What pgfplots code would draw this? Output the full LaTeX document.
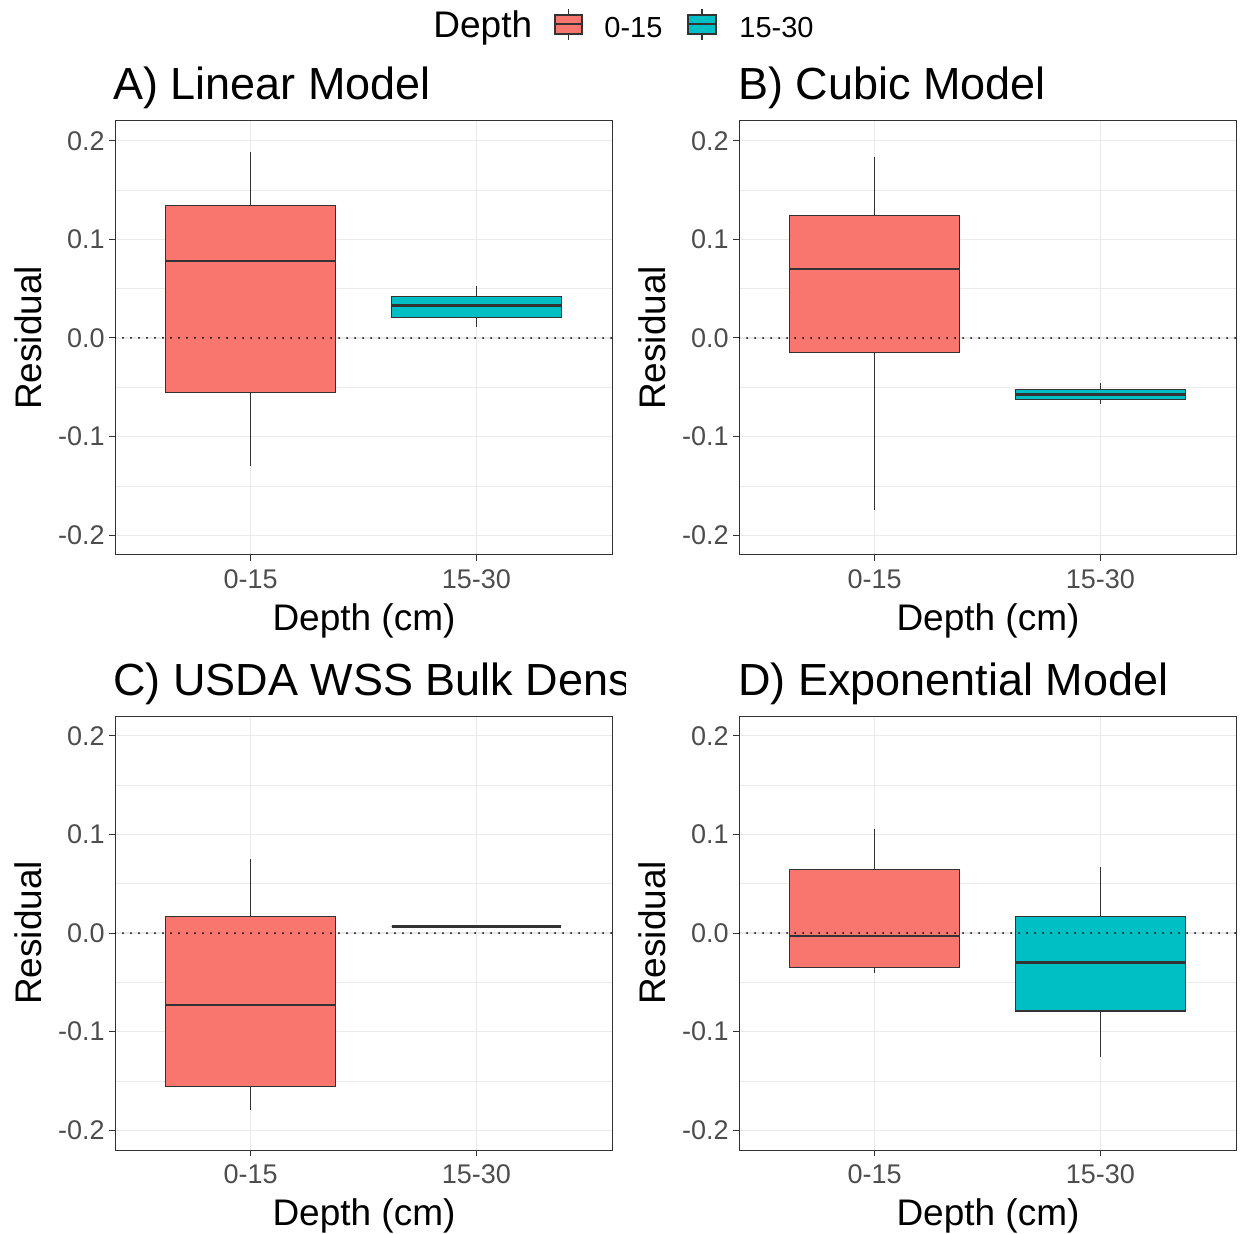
\documentclass[border=0pt]{standalone}
\usepackage{pgfplots}
\pgfplotsset{compat=1.18}
\usepgfplotslibrary{statistics}
\usepackage{fontspec}
\setmainfont{Liberation Sans}
\definecolor{gred}{HTML}{F8766D}
\definecolor{gcyan}{HTML}{00BFC4}
\definecolor{g20}{HTML}{333333}
\definecolor{g30}{HTML}{4D4D4D}
\definecolor{g92}{HTML}{EBEBEB}

\pgfplotsset{
 panel/.style={
  scale only axis, width=248.5pt, height=217pt,
  anchor=north west,
  xmin=0.4, xmax=2.6, ymin=-0.22, ymax=0.22,
  xtick={1,2}, xticklabels={0-15,15-30},
  ytick={-0.2,-0.1,0,0.1,0.2}, yticklabels={-0.2,-0.1,0.0,0.1,0.2},
  minor ytick={-0.15,-0.05,0.05,0.15},
  xtick pos=bottom, ytick pos=left,
  xmajorgrids, ymajorgrids, yminorgrids,
  major grid style={g92, line width=0.6pt},
  minor grid style={g92, line width=0.35pt},
  axis line style={g20, line width=0.5pt},
  tick align=outside, major tick length=3pt, minor tick length=0pt,
  tick style={g20, line width=0.5pt},
  ticklabel style={font=\fontsize{13.5}{16}\selectfont, text=g30},
  yticklabel style={inner sep=0pt, xshift=-2pt},
  xticklabel style={inner sep=0pt, yshift=-4pt},
  boxplot/draw direction=y,
 },
 bx/.style={fill=#1, draw=g20, line width=0.6pt},
 med/.style={g20, line width=1.4pt, line cap=butt},
 zero/.style={black, line width=1pt, line cap=round, dash pattern=on 0pt off 4pt},
}

\begin{document}
\begin{tikzpicture}
\path[use as bounding box] (0,0) rectangle (620pt,-617pt);

% Panel A
\begin{axis}[panel, at={(57.5pt,-60.5pt)}]
\addplot[bx=gred, boxplot prepared={draw position=1, lower whisker=-0.130, lower quartile=-0.055, median=0.078, upper quartile=0.134, upper whisker=0.189, box extend=0.75, whisker extend=0}] coordinates {};
\addplot[bx=gcyan, boxplot prepared={draw position=2, lower whisker=0.011, lower quartile=0.021, median=0.033, upper quartile=0.042, upper whisker=0.053, box extend=0.75, whisker extend=0}] coordinates {};
\addplot[med] coordinates {(0.625,0.078) (1.375,0.078)};
\addplot[med] coordinates {(1.625,0.033) (2.375,0.033)};
\addplot[zero] coordinates {(0.4,0) (2.6,0)};
\end{axis}

% Panel B
\begin{axis}[panel, at={(369.5pt,-60.5pt)}]
\addplot[bx=gred, boxplot prepared={draw position=1, lower whisker=-0.174, lower quartile=-0.015, median=0.070, upper quartile=0.124, upper whisker=0.183, box extend=0.75, whisker extend=0}] coordinates {};
\addplot[bx=gcyan, boxplot prepared={draw position=2, lower whisker=-0.067, lower quartile=-0.062, median=-0.057, upper quartile=-0.052, upper whisker=-0.046, box extend=0.75, whisker extend=0}] coordinates {};
\addplot[med] coordinates {(0.625,0.070) (1.375,0.070)};
\addplot[med] coordinates {(1.625,-0.057) (2.375,-0.057)};
\addplot[zero] coordinates {(0.4,0) (2.6,0)};
\end{axis}

% Panel C
\begin{axis}[panel, at={(57.5pt,-358pt)}]
\addplot[bx=gred, boxplot prepared={draw position=1, lower whisker=-0.179, lower quartile=-0.156, median=-0.073, upper quartile=0.017, upper whisker=0.075, box extend=0.75, whisker extend=0}] coordinates {};
\addplot[bx=gcyan, boxplot prepared={draw position=2, lower whisker=0.007, lower quartile=0.007, median=0.007, upper quartile=0.007, upper whisker=0.007, box extend=0.75, whisker extend=0}] coordinates {};
\addplot[med] coordinates {(0.625,-0.073) (1.375,-0.073)};
\addplot[med] coordinates {(1.625,0.007) (2.375,0.007)};
\addplot[zero] coordinates {(0.4,0) (2.6,0)};
\end{axis}

% Panel D
\begin{axis}[panel, at={(369.5pt,-358pt)}]
\addplot[bx=gred, boxplot prepared={draw position=1, lower whisker=-0.041, lower quartile=-0.035, median=-0.003, upper quartile=0.064, upper whisker=0.105, box extend=0.75, whisker extend=0}] coordinates {};
\addplot[bx=gcyan, boxplot prepared={draw position=2, lower whisker=-0.126, lower quartile=-0.079, median=-0.030, upper quartile=0.017, upper whisker=0.067, box extend=0.75, whisker extend=0}] coordinates {};
\addplot[med] coordinates {(0.625,-0.003) (1.375,-0.003)};
\addplot[med] coordinates {(1.625,-0.030) (2.375,-0.030)};
\addplot[zero] coordinates {(0.4,0) (2.6,0)};
\end{axis}

% Titles
\def\tfont{\fontsize{22.5}{27}\selectfont}
\def\lfont{\fontsize{18.5}{22}\selectfont}
\node[anchor=base west, inner sep=0pt, font=\tfont] at (56.5pt,-50pt) {A) Linear Model};
\node[anchor=base west, inner sep=0pt, font=\tfont] at (369pt,-50pt) {B) Cubic Model};
\begin{scope}
\clip (0pt,-310pt) rectangle (312.5pt,-360pt);
\node[anchor=base west, inner sep=0pt, font=\tfont] at (56.5pt,-347.5pt) {C) USDA WSS Bulk Density};
\end{scope}
\node[anchor=base west, inner sep=0pt, font=\tfont] at (369pt,-347.5pt) {D) Exponential Model};

% Axis labels
\foreach \xx/\yy in {14pt/-169pt, 326pt/-169pt, 14pt/-466.5pt, 326pt/-466.5pt}
  \node[rotate=90, inner sep=0pt, font=\lfont] at (\xx,\yy) {Residual};
\foreach \xx/\yy in {182pt/-315pt, 494pt/-315pt, 182pt/-612.5pt, 494pt/-612.5pt}
  \node[anchor=base, inner sep=0pt, font=\lfont] at (\xx,\yy) {Depth (cm)};

% Legend
\node[anchor=base west, inner sep=0pt, font=\lfont] at (216.5pt,-19pt) {Depth};
\draw[g20, line width=0.6pt] (284.25pt,-4.5pt) -- (284.25pt,-20pt);
\draw[g20, fill=gred, line width=0.6pt] (277.5pt,-7.5pt) rectangle (291pt,-17pt);
\draw[g20, line width=1pt] (277.5pt,-12.25pt) -- (291pt,-12.25pt);
\node[anchor=base west, inner sep=0pt, font=\fontsize{14.5}{17}\selectfont] at (302pt,-19pt) {0-15};
\draw[g20, line width=0.6pt] (351pt,-4.5pt) -- (351pt,-20pt);
\draw[g20, fill=gcyan, line width=0.6pt] (344pt,-7.5pt) rectangle (358pt,-17pt);
\draw[g20, line width=1pt] (344pt,-12.25pt) -- (358pt,-12.25pt);
\node[anchor=base west, inner sep=0pt, font=\fontsize{14.5}{17}\selectfont] at (369.5pt,-19pt) {15-30};
\end{tikzpicture}
\end{document}
